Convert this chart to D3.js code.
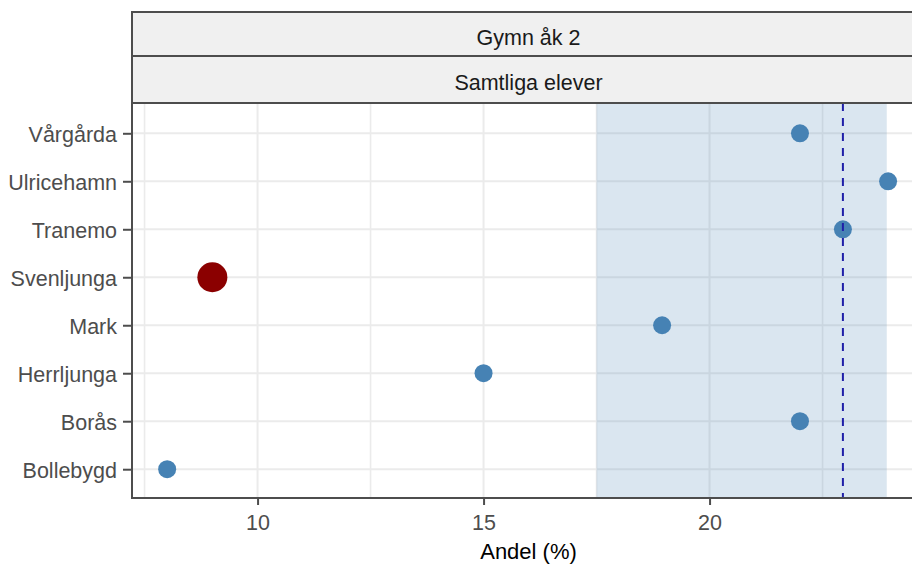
<!DOCTYPE html>
<html>
<head>
<meta charset="utf-8">
<script src="https://cdn.jsdelivr.net/npm/d3@7"></script>
<style>
  html, body { margin: 0; padding: 0; background: #fff; }
  svg { display: block; font-family: "Liberation Sans", Arial, sans-serif; }
</style>
</head>
<body>
<svg id="chart" width="912" height="565"></svg>
<script>
// ---- data ----
const categories = ["Vårgårda", "Ulricehamn", "Tranemo", "Svenljunga", "Mark", "Herrljunga", "Borås", "Bollebygd"];
const values = [22, 23.95, 22.95, 9, 18.95, 15, 22, 8];
const highlighted = ["Svenljunga"];
const bandRange = [17.5, 23.92];
const referenceValue = 22.95;
const xTicks = [10, 15, 20];
const xMinorTicks = [7.5, 12.5, 17.5, 22.5];
const stripLabels = ["Gymn åk 2", "Samtliga elever"];
const xTitle = "Andel (%)";

// ---- layout ----
const svg = d3.select("#chart");
const panel = { left: 132, right: 922, top: 103, bottom: 498 };
const stripTop = 12, stripH = [44, 47];

const x = d3.scaleLinear().domain([7.2, 24.7]).range([131, 922]);
const y = d3.scalePoint().domain(categories).range([104.5, 498]).padding(0.6);

// clip
svg.append("defs").append("clipPath").attr("id", "pclip")
  .append("rect").attr("x", panel.left).attr("y", panel.top)
  .attr("width", panel.right - panel.left).attr("height", panel.bottom - panel.top);

const g = svg.append("g").attr("clip-path", "url(#pclip)");
// grid
g.selectAll("line.minor").data(xMinorTicks).join("line")
  .attr("x1", d => x(d)).attr("x2", d => x(d)).attr("y1", panel.top).attr("y2", panel.bottom)
  .attr("stroke", "#ebebeb").attr("stroke-width", 1.6);
g.selectAll("line.major").data(xTicks).join("line")
  .attr("x1", d => x(d)).attr("x2", d => x(d)).attr("y1", panel.top).attr("y2", panel.bottom)
  .attr("stroke", "#ebebeb").attr("stroke-width", 2);
g.selectAll("line.hgrid").data(categories).join("line")
  .attr("x1", panel.left).attr("x2", panel.right).attr("y1", d => y(d)).attr("y2", d => y(d))
  .attr("stroke", "#ebebeb").attr("stroke-width", 2);
// band
g.append("rect").attr("x", x(bandRange[0])).attr("width", x(bandRange[1]) - x(bandRange[0]))
  .attr("y", panel.top).attr("height", panel.bottom - panel.top)
  .attr("fill", "steelblue").attr("fill-opacity", 0.2);
// points
const pts = categories.map((c, i) => ({ c, v: values[i], hi: highlighted.includes(c) }));
g.selectAll("circle").data(pts).join("circle")
  .attr("cx", d => x(d.v)).attr("cy", d => y(d.c))
  .attr("r", d => d.hi ? 15 : 9)
  .attr("fill", d => d.hi ? "#8b0000" : "steelblue");
// reference line
g.append("line").attr("x1", x(referenceValue)).attr("x2", x(referenceValue))
  .attr("y1", panel.top).attr("y2", panel.bottom)
  .attr("stroke", "#1f1fa8").attr("stroke-width", 2).attr("stroke-dasharray", "8,7");

// strips
stripLabels.forEach((lab, i) => {
  const top = stripTop + (i === 0 ? 0 : stripH[0]);
  svg.append("rect").attr("x", panel.left).attr("y", top)
    .attr("width", panel.right - panel.left + 10).attr("height", stripH[i])
    .attr("fill", "#f0f0f0").attr("stroke", "#4d4d4d").attr("stroke-width", 2);
  svg.append("text").attr("x", (131 + 926) / 2).attr("y", top + stripH[i] / 2 + 3)
    .attr("dy", "0.35em").attr("text-anchor", "middle")
    .attr("font-size", 21.5).attr("fill", "#1a1a1a").text(lab);
});

// axes
const xAxis = svg.append("g").attr("transform", `translate(0,${panel.bottom})`)
  .call(d3.axisBottom(x).tickValues(xTicks).tickSize(7).tickPadding(10).tickFormat(d3.format("d")));
const yAxis = svg.append("g").attr("transform", `translate(${panel.left},0)`)
  .call(d3.axisLeft(y).tickSize(9).tickPadding(6));
[xAxis, yAxis].forEach(a => {
  a.select(".domain").remove();
  a.selectAll(".tick line").attr("stroke", "#4d4d4d").attr("stroke-width", 2);
  a.selectAll(".tick text").attr("fill", "#4d4d4d").attr("font-size", 21.5)
    .attr("font-family", "Liberation Sans, Arial, sans-serif");
});
yAxis.selectAll(".tick text").attr("dy", "0.38em");
svg.append("line").attr("x1", panel.left).attr("x2", 912).attr("y1", panel.bottom).attr("y2", panel.bottom)
  .attr("stroke", "#4d4d4d").attr("stroke-width", 2);
svg.append("line").attr("x1", panel.left).attr("x2", panel.left).attr("y1", panel.top).attr("y2", panel.bottom + 1)
  .attr("stroke", "#4d4d4d").attr("stroke-width", 2);

svg.append("text").attr("x", (131 + 926) / 2).attr("y", 551)
  .attr("dy", "0.35em").attr("text-anchor", "middle").attr("font-size", 22)
  .attr("fill", "#000").text(xTitle);
</script>
</body>
</html>
